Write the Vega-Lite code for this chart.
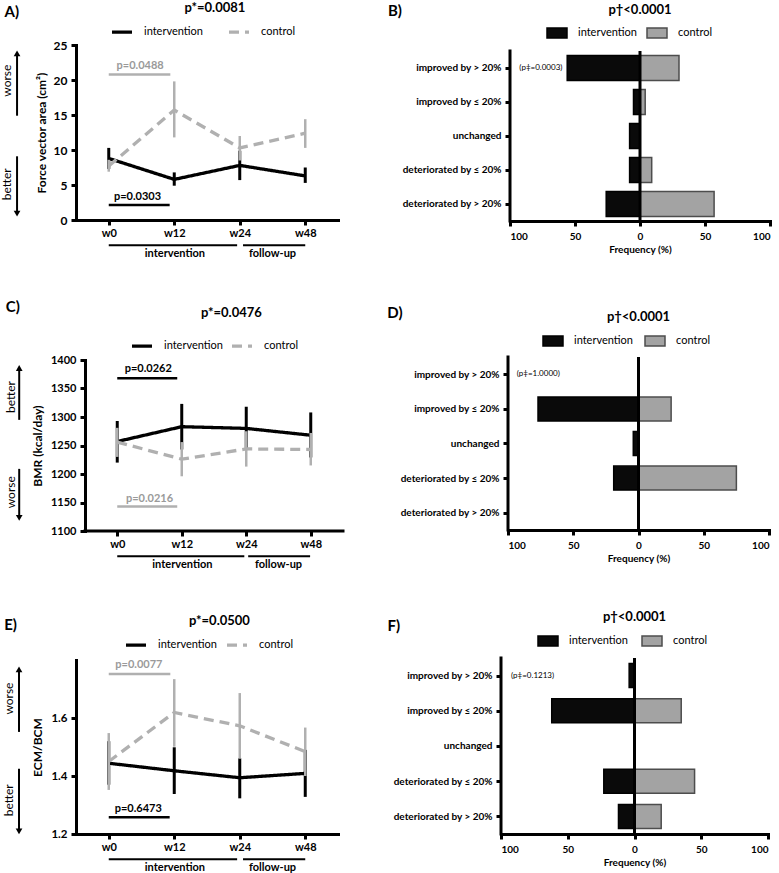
{
  "$schema": "https://vega.github.io/schema/vega-lite/v6.json",
  "padding": {"left": 1, "top": 1, "right": 0, "bottom": 0},
  "background": "white",
  "datasets": {
    "A": [
      {"week": "w0", "t": 0, "group": "intervention", "mean": 8.8, "lo": 7.3, "hi": 10.3},
      {"week": "w12", "t": 1, "group": "intervention", "mean": 5.8, "lo": 4.9, "hi": 6.8},
      {"week": "w24", "t": 2, "group": "intervention", "mean": 7.8, "lo": 5.7, "hi": 9.9},
      {"week": "w48", "t": 3, "group": "intervention", "mean": 6.3, "lo": 5.3, "hi": 7.5},
      {"week": "w0", "t": 0, "group": "control", "mean": 7.7, "lo": 6.9, "hi": 8.6},
      {"week": "w12", "t": 1, "group": "control", "mean": 15.7, "lo": 11.8, "hi": 19.8},
      {"week": "w24", "t": 2, "group": "control", "mean": 10.3, "lo": 8.5, "hi": 12.0},
      {"week": "w48", "t": 3, "group": "control", "mean": 12.4, "lo": 10.3, "hi": 14.4}
    ],
    "C": [
      {"week": "w0", "t": 0, "group": "intervention", "mean": 1257, "lo": 1220, "hi": 1293},
      {"week": "w12", "t": 1, "group": "intervention", "mean": 1283, "lo": 1243, "hi": 1323},
      {"week": "w24", "t": 2, "group": "intervention", "mean": 1280, "lo": 1242, "hi": 1318},
      {"week": "w48", "t": 3, "group": "intervention", "mean": 1268, "lo": 1229, "hi": 1308},
      {"week": "w0", "t": 0, "group": "control", "mean": 1256, "lo": 1230, "hi": 1281},
      {"week": "w12", "t": 1, "group": "control", "mean": 1226, "lo": 1196, "hi": 1256},
      {"week": "w24", "t": 2, "group": "control", "mean": 1244, "lo": 1213, "hi": 1275},
      {"week": "w48", "t": 3, "group": "control", "mean": 1243, "lo": 1215, "hi": 1272}
    ],
    "E": [
      {"week": "w0", "t": 0, "group": "intervention", "mean": 1.444, "lo": 1.37, "hi": 1.52},
      {"week": "w12", "t": 1, "group": "intervention", "mean": 1.418, "lo": 1.338, "hi": 1.499},
      {"week": "w24", "t": 2, "group": "intervention", "mean": 1.394, "lo": 1.323, "hi": 1.461},
      {"week": "w48", "t": 3, "group": "intervention", "mean": 1.409, "lo": 1.328, "hi": 1.49},
      {"week": "w0", "t": 0, "group": "control", "mean": 1.45, "lo": 1.352, "hi": 1.548},
      {"week": "w12", "t": 1, "group": "control", "mean": 1.619, "lo": 1.501, "hi": 1.734},
      {"week": "w24", "t": 2, "group": "control", "mean": 1.573, "lo": 1.46, "hi": 1.686},
      {"week": "w48", "t": 3, "group": "control", "mean": 1.484, "lo": 1.4, "hi": 1.567}
    ],
    "B": [
      {"change": "improved by > 20%", "idx": 0, "group": "intervention", "freq": -56},
      {"change": "improved by ≤ 20%", "idx": 1, "group": "intervention", "freq": -5},
      {"change": "unchanged", "idx": 2, "group": "intervention", "freq": -8},
      {"change": "deteriorated by ≤ 20%", "idx": 3, "group": "intervention", "freq": -8},
      {"change": "deteriorated by > 20%", "idx": 4, "group": "intervention", "freq": -26},
      {"change": "improved by > 20%", "idx": 0, "group": "control", "freq": 30},
      {"change": "improved by ≤ 20%", "idx": 1, "group": "control", "freq": 4},
      {"change": "unchanged", "idx": 2, "group": "control", "freq": 0},
      {"change": "deteriorated by ≤ 20%", "idx": 3, "group": "control", "freq": 9},
      {"change": "deteriorated by > 20%", "idx": 4, "group": "control", "freq": 57}
    ],
    "D": [
      {"change": "improved by > 20%", "idx": 0, "group": "intervention", "freq": 0},
      {"change": "improved by ≤ 20%", "idx": 1, "group": "intervention", "freq": -77},
      {"change": "unchanged", "idx": 2, "group": "intervention", "freq": -4},
      {"change": "deteriorated by ≤ 20%", "idx": 3, "group": "intervention", "freq": -19},
      {"change": "deteriorated by > 20%", "idx": 4, "group": "intervention", "freq": 0},
      {"change": "improved by > 20%", "idx": 0, "group": "control", "freq": 0},
      {"change": "improved by ≤ 20%", "idx": 1, "group": "control", "freq": 25},
      {"change": "unchanged", "idx": 2, "group": "control", "freq": 0},
      {"change": "deteriorated by ≤ 20%", "idx": 3, "group": "control", "freq": 75},
      {"change": "deteriorated by > 20%", "idx": 4, "group": "control", "freq": 0}
    ],
    "F": [
      {"change": "improved by > 20%", "idx": 0, "group": "intervention", "freq": -4},
      {"change": "improved by ≤ 20%", "idx": 1, "group": "intervention", "freq": -62},
      {"change": "unchanged", "idx": 2, "group": "intervention", "freq": 0},
      {"change": "deteriorated by ≤ 20%", "idx": 3, "group": "intervention", "freq": -23},
      {"change": "deteriorated by > 20%", "idx": 4, "group": "intervention", "freq": -12},
      {"change": "improved by > 20%", "idx": 0, "group": "control", "freq": 0},
      {"change": "improved by ≤ 20%", "idx": 1, "group": "control", "freq": 35},
      {"change": "unchanged", "idx": 2, "group": "control", "freq": 0},
      {"change": "deteriorated by ≤ 20%", "idx": 3, "group": "control", "freq": 45},
      {"change": "deteriorated by > 20%", "idx": 4, "group": "control", "freq": 20}
    ]
  },
  "columns": 1,
  "align": "none",
  "spacing": 40,
  "resolve": {"scale": {"color": "independent", "strokeDash": "independent", "fill": "independent", "stroke": "independent"}, "legend": {"color": "independent", "strokeDash": "independent", "fill": "independent", "stroke": "independent"}},
  "concat": [
    {
      "columns": 2, "align": "none", "bounds": "flush", "spacing": 172,
      "resolve": {"scale": {"color": "independent", "strokeDash": "independent", "fill": "independent", "stroke": "independent"}, "legend": {"color": "independent", "strokeDash": "independent", "fill": "independent", "stroke": "independent"}},
      "concat": [
        {
          "width": 262, "height": 175,
          "layer": [
            {"data": {"name": "A"}, "transform": [{"filter": "datum.group === 'intervention'"}],
             "mark": {"type": "rule", "strokeWidth": 3, "color": "#000000"},
             "encoding": {
               "x": {"field": "t", "type": "quantitative", "scale": {"domain": [-0.5, 3.5], "nice": false, "zero": false},
                     "axis": {"values": [0, 1, 2, 3], "tickCount": 20, "labelExpr": "['w0','w12','w24','w48'][datum.value]", "title": null, "labelPadding": 2}},
               "y": {"field": "lo", "type": "quantitative", "scale": {"domain": [0, 25], "nice": false, "zero": false},
                     "axis": {"values": [0, 5, 10, 15, 20, 25], "tickCount": 20, "title": "Force vector area (cm²)", "labelPadding": 4, "titlePadding": 5, "labelFontSize": 12}},
               "y2": {"field": "hi"}}},
            {"data": {"name": "A"},
             "mark": {"type": "line", "strokeWidth": 3.3},
             "encoding": {
               "x": {"field": "t", "type": "quantitative"},
               "y": {"field": "mean", "type": "quantitative"},
               "color": {"field": "group", "type": "nominal", "scale": {"domain": ["intervention", "control"], "range": ["#000000", "#b0b0b0"]},
                         "legend": {"orient": "none", "legendX": 34, "legendY": -25, "direction": "horizontal", "title": null, "symbolType": "stroke", "symbolSize": 400, "symbolStrokeWidth": 3.3, "labelOffset": 10, "columnPadding": 19}},
               "strokeDash": {"field": "group", "type": "nominal", "scale": {"domain": ["intervention", "control"], "range": [[1, 0], [10, 6]]},
                         "legend": {"orient": "none", "legendX": 34, "legendY": -25, "direction": "horizontal", "title": null, "symbolType": "stroke", "symbolSize": 400, "symbolStrokeWidth": 3.3, "labelOffset": 10, "columnPadding": 19}}}},
            {"data": {"name": "A"}, "transform": [{"filter": "datum.group === 'control'"}],
             "mark": {"type": "rule", "strokeWidth": 2.5, "color": "#b0b0b0"},
             "encoding": {"x": {"field": "t", "type": "quantitative"}, "y": {"field": "lo", "type": "quantitative"}, "y2": {"field": "hi"}}},
            {"data": {"values": [{}]}, "mark": {"type": "text", "text": "A)", "fontSize": 15, "fontWeight": "bold"},
             "encoding": {"x": {"datum": -1.48, "type": "quantitative"}, "y": {"datum": 29.7, "type": "quantitative"}}},
            {"data": {"values": [{}]}, "mark": {"type": "text", "text": "p*=0.0081", "fontSize": 13, "fontWeight": "bold"},
             "encoding": {"x": {"datum": 1.62, "type": "quantitative"}, "y": {"datum": 30.3, "type": "quantitative"}}},
            {"data": {"values": [{}]}, "mark": {"type": "text", "text": "worse", "fontSize": 12, "angle": 270},
             "encoding": {"x": {"datum": -1.55, "type": "quantitative"}, "y": {"datum": 19.9, "type": "quantitative"}}},
            {"data": {"values": [{}]}, "mark": {"type": "rule", "strokeWidth": 2, "color": "#000000"},
             "encoding": {"x": {"datum": -1.4, "type": "quantitative"}, "y": {"datum": 14.9, "type": "quantitative"}, "y2": {"datum": 23.8}}},
            {"data": {"values": [{}]}, "mark": {"type": "point", "shape": "triangle-up", "size": 45, "filled": true, "color": "#000000", "opacity": 1},
             "encoding": {"x": {"datum": -1.4, "type": "quantitative"}, "y": {"datum": 23.8, "type": "quantitative"}}},
            {"data": {"values": [{}]}, "mark": {"type": "text", "text": "better", "fontSize": 12, "angle": 270},
             "encoding": {"x": {"datum": -1.55, "type": "quantitative"}, "y": {"datum": 5.1, "type": "quantitative"}}},
            {"data": {"values": [{}]}, "mark": {"type": "rule", "strokeWidth": 2, "color": "#000000"},
             "encoding": {"x": {"datum": -1.4, "type": "quantitative"}, "y": {"datum": 9.1, "type": "quantitative"}, "y2": {"datum": 0.9}}},
            {"data": {"values": [{}]}, "mark": {"type": "point", "shape": "triangle-down", "size": 45, "filled": true, "color": "#000000", "opacity": 1},
             "encoding": {"x": {"datum": -1.4, "type": "quantitative"}, "y": {"datum": 0.9, "type": "quantitative"}}},
            {"data": {"values": [{}]}, "mark": {"type": "text", "text": "p=0.0488", "fontSize": 11, "fontWeight": "bold", "color": "#9a9a9a"},
             "encoding": {"x": {"datum": 0.48, "type": "quantitative"}, "y": {"datum": 22.0, "type": "quantitative"}}},
            {"data": {"values": [{}]}, "mark": {"type": "rule", "strokeWidth": 2.5, "color": "#b0b0b0"},
             "encoding": {"x": {"datum": 0, "type": "quantitative"}, "x2": {"datum": 0.94}, "y": {"datum": 20.8, "type": "quantitative"}}},
            {"data": {"values": [{}]}, "mark": {"type": "text", "text": "p=0.0303", "fontSize": 11, "fontWeight": "bold"},
             "encoding": {"x": {"datum": 0.44, "type": "quantitative"}, "y": {"datum": 3.3, "type": "quantitative"}}},
            {"data": {"values": [{}]}, "mark": {"type": "rule", "strokeWidth": 2.5, "color": "#000000"},
             "encoding": {"x": {"datum": 0, "type": "quantitative"}, "x2": {"datum": 0.93}, "y": {"datum": 2.15, "type": "quantitative"}}},
            {"data": {"values": [{}]}, "mark": {"type": "rule", "strokeWidth": 2, "color": "#000000"},
             "encoding": {"x": {"datum": 0, "type": "quantitative"}, "x2": {"datum": 1.96}, "y": {"datum": -3.6, "type": "quantitative"}}},
            {"data": {"values": [{}]}, "mark": {"type": "rule", "strokeWidth": 2, "color": "#000000"},
             "encoding": {"x": {"datum": 2.05, "type": "quantitative"}, "x2": {"datum": 3.0}, "y": {"datum": -3.6, "type": "quantitative"}}},
            {"data": {"values": [{}]}, "mark": {"type": "text", "text": "intervention", "fontSize": 11, "fontWeight": "bold"},
             "encoding": {"x": {"datum": 1.01, "type": "quantitative"}, "y": {"datum": -4.8, "type": "quantitative"}}},
            {"data": {"values": [{}]}, "mark": {"type": "text", "text": "follow-up", "fontSize": 11, "fontWeight": "bold"},
             "encoding": {"x": {"datum": 2.5, "type": "quantitative"}, "y": {"datum": -4.8, "type": "quantitative"}}}
          ]
        },
        {
          "width": 260, "height": 176,
          "layer": [
            {"data": {"name": "B"},
             "mark": {"type": "bar", "orient": "horizontal", "size": 25, "strokeWidth": 1.5},
             "encoding": {
               "x": {"field": "freq", "type": "quantitative", "stack": null, "scale": {"domain": [-100, 100], "nice": false, "padding": 0},
                     "axis": {"values": [-100, -50, 0, 50, 100], "tickCount": 20, "labelExpr": "abs(datum.value)", "title": "Frequency (%)", "titleFontSize": 10, "labelFontSize": 10, "labelPadding": 5, "titlePadding": 3}},
               "y": {"field": "idx", "type": "quantitative", "scale": {"domain": [-0.676, 4.5], "reverse": true, "nice": false, "zero": false, "padding": 0},
                     "axis": {"values": [0, 1, 2, 3, 4], "tickCount": 20, "domain": false, "labelExpr": "['improved by > 20%','improved by ≤ 20%','unchanged','deteriorated by ≤ 20%','deteriorated by > 20%'][datum.value]", "title": null, "labelFontSize": 10, "labelPadding": 4}},
               "fill": {"field": "group", "type": "nominal", "scale": {"domain": ["intervention", "control"], "range": ["#0a0a0a", "#a3a3a3"]},
                        "legend": {"orient": "none", "legendX": 36, "legendY": -23, "direction": "horizontal", "title": null, "symbolType": "M-1,-0.5H1V0.5H-1Z", "symbolSize": 400, "symbolStrokeWidth": 1.5, "labelOffset": 10, "columnPadding": 7}},
               "stroke": {"field": "group", "type": "nominal", "scale": {"domain": ["intervention", "control"], "range": ["#000000", "#4d4d4d"]},
                        "legend": {"orient": "none", "legendX": 36, "legendY": -23, "direction": "horizontal", "title": null, "symbolType": "M-1,-0.5H1V0.5H-1Z", "symbolSize": 400, "symbolStrokeWidth": 1.5, "labelOffset": 10, "columnPadding": 7}}}},
            {"data": {"values": [{}]}, "mark": {"type": "rule", "strokeWidth": 3, "color": "#000000", "strokeCap": "square"},
             "encoding": {"x": {"datum": -100, "type": "quantitative"}, "y": {"datum": -0.5, "type": "quantitative"}, "y2": {"datum": 4.5}}},
            {"data": {"values": [{}]}, "mark": {"type": "rule", "strokeWidth": 3, "color": "#000000"},
             "encoding": {"x": {"datum": 0, "type": "quantitative"}, "y": {"datum": -0.5, "type": "quantitative"}, "y2": {"datum": 4.5}}},
            {"data": {"values": [{}]}, "mark": {"type": "text", "text": "B)", "fontSize": 15, "fontWeight": "bold"},
             "encoding": {"x": {"datum": -188.5, "type": "quantitative"}, "y": {"datum": -1.68, "type": "quantitative"}}},
            {"data": {"values": [{}]}, "mark": {"type": "text", "text": "p†<0.0001", "fontSize": 13, "fontWeight": "bold"},
             "encoding": {"x": {"datum": 0, "type": "quantitative"}, "y": {"datum": -1.71, "type": "quantitative"}}},
            {"data": {"values": [{}]}, "mark": {"type": "text", "text": "(p‡=0.0003)", "fontSize": 8, "align": "left"},
             "encoding": {"x": {"datum": -92.8, "type": "quantitative"}, "y": {"datum": 0, "type": "quantitative"}}}
          ]
        }
      ]
    },
    {
      "columns": 2, "align": "none", "bounds": "flush", "spacing": 165,
      "resolve": {"scale": {"color": "independent", "strokeDash": "independent", "fill": "independent", "stroke": "independent"}, "legend": {"color": "independent", "strokeDash": "independent", "fill": "independent", "stroke": "independent"}},
      "concat": [
        {
          "width": 267, "height": 171,
          "layer": [
            {"data": {"name": "C"}, "transform": [{"filter": "datum.group === 'intervention'"}],
             "mark": {"type": "rule", "strokeWidth": 3, "color": "#000000"},
             "encoding": {
               "x": {"field": "t", "type": "quantitative", "scale": {"domain": [-0.6395, 3.5], "nice": false, "zero": false},
                     "axis": {"values": [0, 1, 2, 3], "tickCount": 20, "domain": false, "labelExpr": "['w0','w12','w24','w48'][datum.value]", "title": null, "labelPadding": 2}},
               "y": {"field": "lo", "type": "quantitative", "scale": {"domain": [1100, 1400], "nice": false, "zero": false},
                     "axis": {"values": [1100, 1150, 1200, 1250, 1300, 1350, 1400], "tickCount": 20, "offset": -9, "title": "BMR (kcal/day)", "labelPadding": 4, "titlePadding": 6, "format": "d", "labelFontSize": 11}},
               "y2": {"field": "hi"}}},
            {"data": {"values": [{}]}, "mark": {"type": "rule", "strokeWidth": 3, "color": "#000000", "strokeCap": "square"},
             "encoding": {"x": {"datum": -0.5, "type": "quantitative"}, "x2": {"datum": 3.5}, "y": {"datum": 1100, "type": "quantitative"}}},
            {"data": {"name": "C"},
             "mark": {"type": "line", "strokeWidth": 3.3},
             "encoding": {
               "x": {"field": "t", "type": "quantitative"},
               "y": {"field": "mean", "type": "quantitative"},
               "color": {"field": "group", "type": "nominal", "scale": {"domain": ["intervention", "control"], "range": ["#000000", "#b0b0b0"]},
                         "legend": {"orient": "none", "legendX": 54, "legendY": -26, "direction": "horizontal", "title": null, "symbolType": "stroke", "symbolSize": 400, "symbolStrokeWidth": 3.3, "labelOffset": 10, "columnPadding": 2}},
               "strokeDash": {"field": "group", "type": "nominal", "scale": {"domain": ["intervention", "control"], "range": [[1, 0], [10, 6]]},
                         "legend": {"orient": "none", "legendX": 54, "legendY": -26, "direction": "horizontal", "title": null, "symbolType": "stroke", "symbolSize": 400, "symbolStrokeWidth": 3.3, "labelOffset": 10, "columnPadding": 2}}}},
            {"data": {"name": "C"}, "transform": [{"filter": "datum.group === 'control'"}],
             "mark": {"type": "rule", "strokeWidth": 2.5, "color": "#b0b0b0"},
             "encoding": {"x": {"field": "t", "type": "quantitative"}, "y": {"field": "lo", "type": "quantitative"}, "y2": {"field": "hi"}}},
            {"data": {"values": [{}]}, "mark": {"type": "text", "text": "C)", "fontSize": 15, "fontWeight": "bold"},
             "encoding": {"x": {"datum": -1.62, "type": "quantitative"}, "y": {"datum": 1493, "type": "quantitative"}}},
            {"data": {"values": [{}]}, "mark": {"type": "text", "text": "p*=0.0476", "fontSize": 13, "fontWeight": "bold"},
             "encoding": {"x": {"datum": 1.77, "type": "quantitative"}, "y": {"datum": 1483, "type": "quantitative"}}},
            {"data": {"values": [{}]}, "mark": {"type": "text", "text": "better", "fontSize": 12, "angle": 270},
             "encoding": {"x": {"datum": -1.64, "type": "quantitative"}, "y": {"datum": 1335, "type": "quantitative"}}},
            {"data": {"values": [{}]}, "mark": {"type": "rule", "strokeWidth": 2, "color": "#000000"},
             "encoding": {"x": {"datum": -1.52, "type": "quantitative"}, "y": {"datum": 1295, "type": "quantitative"}, "y2": {"datum": 1386}}},
            {"data": {"values": [{}]}, "mark": {"type": "point", "shape": "triangle-up", "size": 45, "filled": true, "color": "#000000", "opacity": 1},
             "encoding": {"x": {"datum": -1.52, "type": "quantitative"}, "y": {"datum": 1386, "type": "quantitative"}}},
            {"data": {"values": [{}]}, "mark": {"type": "text", "text": "worse", "fontSize": 12, "angle": 270},
             "encoding": {"x": {"datum": -1.64, "type": "quantitative"}, "y": {"datum": 1168, "type": "quantitative"}}},
            {"data": {"values": [{}]}, "mark": {"type": "rule", "strokeWidth": 2, "color": "#000000"},
             "encoding": {"x": {"datum": -1.52, "type": "quantitative"}, "y": {"datum": 1209, "type": "quantitative"}, "y2": {"datum": 1123}}},
            {"data": {"values": [{}]}, "mark": {"type": "point", "shape": "triangle-down", "size": 45, "filled": true, "color": "#000000", "opacity": 1},
             "encoding": {"x": {"datum": -1.52, "type": "quantitative"}, "y": {"datum": 1123, "type": "quantitative"}}},
            {"data": {"values": [{}]}, "mark": {"type": "text", "text": "p=0.0262", "fontSize": 11, "fontWeight": "bold"},
             "encoding": {"x": {"datum": 0.48, "type": "quantitative"}, "y": {"datum": 1385, "type": "quantitative"}}},
            {"data": {"values": [{}]}, "mark": {"type": "rule", "strokeWidth": 2.5, "color": "#000000"},
             "encoding": {"x": {"datum": 0, "type": "quantitative"}, "x2": {"datum": 0.93}, "y": {"datum": 1368, "type": "quantitative"}}},
            {"data": {"values": [{}]}, "mark": {"type": "text", "text": "p=0.0216", "fontSize": 11, "fontWeight": "bold", "color": "#9a9a9a"},
             "encoding": {"x": {"datum": 0.5, "type": "quantitative"}, "y": {"datum": 1157, "type": "quantitative"}}},
            {"data": {"values": [{}]}, "mark": {"type": "rule", "strokeWidth": 2.5, "color": "#b0b0b0"},
             "encoding": {"x": {"datum": 0, "type": "quantitative"}, "x2": {"datum": 0.93}, "y": {"datum": 1143, "type": "quantitative"}}},
            {"data": {"values": [{}]}, "mark": {"type": "rule", "strokeWidth": 2, "color": "#000000"},
             "encoding": {"x": {"datum": 0, "type": "quantitative"}, "x2": {"datum": 1.97}, "y": {"datum": 1055.6, "type": "quantitative"}}},
            {"data": {"values": [{}]}, "mark": {"type": "rule", "strokeWidth": 2, "color": "#000000"},
             "encoding": {"x": {"datum": 2.03, "type": "quantitative"}, "x2": {"datum": 2.99}, "y": {"datum": 1055.6, "type": "quantitative"}}},
            {"data": {"values": [{}]}, "mark": {"type": "text", "text": "intervention", "fontSize": 11, "fontWeight": "bold"},
             "encoding": {"x": {"datum": 1.01, "type": "quantitative"}, "y": {"datum": 1041, "type": "quantitative"}}},
            {"data": {"values": [{}]}, "mark": {"type": "text", "text": "follow-up", "fontSize": 11, "fontWeight": "bold"},
             "encoding": {"x": {"datum": 2.5, "type": "quantitative"}, "y": {"datum": 1041, "type": "quantitative"}}}
          ]
        },
        {
          "width": 261, "height": 170,
          "layer": [
            {"data": {"name": "D"},
             "mark": {"type": "bar", "orient": "horizontal", "size": 24, "strokeWidth": 1.5},
             "encoding": {
               "x": {"field": "freq", "type": "quantitative", "stack": null, "scale": {"domain": [-100, 100], "nice": false, "padding": 0},
                     "axis": {"values": [-100, -50, 0, 50, 100], "tickCount": 20, "labelExpr": "abs(datum.value)", "title": "Frequency (%)", "titleFontSize": 10, "labelFontSize": 10, "labelPadding": 5, "titlePadding": 3}},
               "y": {"field": "idx", "type": "quantitative", "scale": {"domain": [-0.413, 4.5], "reverse": true, "nice": false, "zero": false, "padding": 0},
                     "axis": {"values": [0, 1, 2, 3, 4], "tickCount": 20, "domain": false, "labelExpr": "['improved by > 20%','improved by ≤ 20%','unchanged','deteriorated by ≤ 20%','deteriorated by > 20%'][datum.value]", "title": null, "labelFontSize": 10, "labelPadding": 4}},
               "fill": {"field": "group", "type": "nominal", "scale": {"domain": ["intervention", "control"], "range": ["#0a0a0a", "#a3a3a3"]},
                        "legend": {"orient": "none", "legendX": 34, "legendY": -30, "direction": "horizontal", "title": null, "symbolType": "M-1,-0.5H1V0.5H-1Z", "symbolSize": 400, "symbolStrokeWidth": 1.5, "labelOffset": 10, "columnPadding": 9}},
               "stroke": {"field": "group", "type": "nominal", "scale": {"domain": ["intervention", "control"], "range": ["#000000", "#4d4d4d"]},
                        "legend": {"orient": "none", "legendX": 34, "legendY": -30, "direction": "horizontal", "title": null, "symbolType": "M-1,-0.5H1V0.5H-1Z", "symbolSize": 400, "symbolStrokeWidth": 1.5, "labelOffset": 10, "columnPadding": 9}}}},
            {"data": {"values": [{}]}, "mark": {"type": "rule", "strokeWidth": 3, "color": "#000000", "strokeCap": "square"},
             "encoding": {"x": {"datum": -100, "type": "quantitative"}, "y": {"datum": -0.5, "type": "quantitative"}, "y2": {"datum": 4.5}}},
            {"data": {"values": [{}]}, "mark": {"type": "rule", "strokeWidth": 3, "color": "#000000"},
             "encoding": {"x": {"datum": 0, "type": "quantitative"}, "y": {"datum": -0.5, "type": "quantitative"}, "y2": {"datum": 4.5}}},
            {"data": {"values": [{}]}, "mark": {"type": "text", "text": "D)", "fontSize": 15, "fontWeight": "bold"},
             "encoding": {"x": {"datum": -186.6, "type": "quantitative"}, "y": {"datum": -1.77, "type": "quantitative"}}},
            {"data": {"values": [{}]}, "mark": {"type": "text", "text": "p†<0.0001", "fontSize": 13, "fontWeight": "bold"},
             "encoding": {"x": {"datum": 0, "type": "quantitative"}, "y": {"datum": -1.66, "type": "quantitative"}}},
            {"data": {"values": [{}]}, "mark": {"type": "text", "text": "(p‡=1.0000)", "fontSize": 8, "align": "left"},
             "encoding": {"x": {"datum": -93.3, "type": "quantitative"}, "y": {"datum": 0, "type": "quantitative"}}}
          ]
        }
      ]
    },
    {
      "columns": 2, "align": "none", "bounds": "flush", "spacing": 163,
      "resolve": {"scale": {"color": "independent", "strokeDash": "independent", "fill": "independent", "stroke": "independent"}, "legend": {"color": "independent", "strokeDash": "independent", "fill": "independent", "stroke": "independent"}},
      "concat": [
        {
          "width": 262, "height": 174,
          "layer": [
            {"data": {"name": "E"}, "transform": [{"filter": "datum.group === 'intervention'"}],
             "mark": {"type": "rule", "strokeWidth": 3, "color": "#000000"},
             "encoding": {
               "x": {"field": "t", "type": "quantitative", "scale": {"domain": [-0.5, 3.5], "nice": false, "zero": false},
                     "axis": {"values": [0, 1, 2, 3], "tickCount": 20, "labelExpr": "['w0','w12','w24','w48'][datum.value]", "title": null, "labelPadding": 2}},
               "y": {"field": "lo", "type": "quantitative", "scale": {"domain": [1.2, 1.8], "nice": false, "zero": false},
                     "axis": {"values": [1.2, 1.4, 1.6], "tickCount": 20, "format": ".1f", "title": "ECM/BCM", "labelPadding": 4, "titlePadding": 6, "labelFontSize": 11.5}},
               "y2": {"field": "hi"}}},
            {"data": {"name": "E"},
             "mark": {"type": "line", "strokeWidth": 3.3},
             "encoding": {
               "x": {"field": "t", "type": "quantitative"},
               "y": {"field": "mean", "type": "quantitative"},
               "color": {"field": "group", "type": "nominal", "scale": {"domain": ["intervention", "control"], "range": ["#000000", "#b0b0b0"]},
                         "legend": {"orient": "none", "legendX": 48, "legendY": -27, "direction": "horizontal", "title": null, "symbolType": "stroke", "symbolSize": 400, "symbolStrokeWidth": 3.3, "labelOffset": 10, "columnPadding": 3}},
               "strokeDash": {"field": "group", "type": "nominal", "scale": {"domain": ["intervention", "control"], "range": [[1, 0], [10, 6]]},
                         "legend": {"orient": "none", "legendX": 48, "legendY": -27, "direction": "horizontal", "title": null, "symbolType": "stroke", "symbolSize": 400, "symbolStrokeWidth": 3.3, "labelOffset": 10, "columnPadding": 3}}}},
            {"data": {"name": "E"}, "transform": [{"filter": "datum.group === 'control'"}],
             "mark": {"type": "rule", "strokeWidth": 2.5, "color": "#b0b0b0"},
             "encoding": {"x": {"field": "t", "type": "quantitative"}, "y": {"field": "lo", "type": "quantitative"}, "y2": {"field": "hi"}}},
            {"data": {"values": [{}]}, "mark": {"type": "text", "text": "E)", "fontSize": 15, "fontWeight": "bold"},
             "encoding": {"x": {"datum": -1.5, "type": "quantitative"}, "y": {"datum": 1.922, "type": "quantitative"}}},
            {"data": {"values": [{}]}, "mark": {"type": "text", "text": "p*=0.0500", "fontSize": 13, "fontWeight": "bold"},
             "encoding": {"x": {"datum": 1.69, "type": "quantitative"}, "y": {"datum": 1.933, "type": "quantitative"}}},
            {"data": {"values": [{}]}, "mark": {"type": "text", "text": "worse", "fontSize": 12, "angle": 270},
             "encoding": {"x": {"datum": -1.53, "type": "quantitative"}, "y": {"datum": 1.667, "type": "quantitative"}}},
            {"data": {"values": [{}]}, "mark": {"type": "rule", "strokeWidth": 2, "color": "#000000"},
             "encoding": {"x": {"datum": -1.37, "type": "quantitative"}, "y": {"datum": 1.552, "type": "quantitative"}, "y2": {"datum": 1.768}}},
            {"data": {"values": [{}]}, "mark": {"type": "point", "shape": "triangle-up", "size": 45, "filled": true, "color": "#000000", "opacity": 1},
             "encoding": {"x": {"datum": -1.37, "type": "quantitative"}, "y": {"datum": 1.768, "type": "quantitative"}}},
            {"data": {"values": [{}]}, "mark": {"type": "text", "text": "better", "fontSize": 12, "angle": 270},
             "encoding": {"x": {"datum": -1.53, "type": "quantitative"}, "y": {"datum": 1.316, "type": "quantitative"}}},
            {"data": {"values": [{}]}, "mark": {"type": "rule", "strokeWidth": 2, "color": "#000000"},
             "encoding": {"x": {"datum": -1.37, "type": "quantitative"}, "y": {"datum": 1.425, "type": "quantitative"}, "y2": {"datum": 1.209}}},
            {"data": {"values": [{}]}, "mark": {"type": "point", "shape": "triangle-down", "size": 45, "filled": true, "color": "#000000", "opacity": 1},
             "encoding": {"x": {"datum": -1.37, "type": "quantitative"}, "y": {"datum": 1.209, "type": "quantitative"}}},
            {"data": {"values": [{}]}, "mark": {"type": "text", "text": "p=0.0077", "fontSize": 11, "fontWeight": "bold", "color": "#9a9a9a"},
             "encoding": {"x": {"datum": 0.46, "type": "quantitative"}, "y": {"datum": 1.784, "type": "quantitative"}}},
            {"data": {"values": [{}]}, "mark": {"type": "rule", "strokeWidth": 2.5, "color": "#b0b0b0"},
             "encoding": {"x": {"datum": 0, "type": "quantitative"}, "x2": {"datum": 0.94}, "y": {"datum": 1.752, "type": "quantitative"}}},
            {"data": {"values": [{}]}, "mark": {"type": "text", "text": "p=0.6473", "fontSize": 11, "fontWeight": "bold"},
             "encoding": {"x": {"datum": 0.45, "type": "quantitative"}, "y": {"datum": 1.286, "type": "quantitative"}}},
            {"data": {"values": [{}]}, "mark": {"type": "rule", "strokeWidth": 2.5, "color": "#000000"},
             "encoding": {"x": {"datum": 0, "type": "quantitative"}, "x2": {"datum": 0.93}, "y": {"datum": 1.258, "type": "quantitative"}}},
            {"data": {"values": [{}]}, "mark": {"type": "rule", "strokeWidth": 2, "color": "#000000"},
             "encoding": {"x": {"datum": 0, "type": "quantitative"}, "x2": {"datum": 1.96}, "y": {"datum": 1.113, "type": "quantitative"}}},
            {"data": {"values": [{}]}, "mark": {"type": "rule", "strokeWidth": 2, "color": "#000000"},
             "encoding": {"x": {"datum": 2.05, "type": "quantitative"}, "x2": {"datum": 3.0}, "y": {"datum": 1.113, "type": "quantitative"}}},
            {"data": {"values": [{}]}, "mark": {"type": "text", "text": "intervention", "fontSize": 11, "fontWeight": "bold"},
             "encoding": {"x": {"datum": 1.01, "type": "quantitative"}, "y": {"datum": 1.083, "type": "quantitative"}}},
            {"data": {"values": [{}]}, "mark": {"type": "text", "text": "follow-up", "fontSize": 11, "fontWeight": "bold"},
             "encoding": {"x": {"datum": 2.5, "type": "quantitative"}, "y": {"datum": 1.083, "type": "quantitative"}}}
          ]
        },
        {
          "width": 267, "height": 174,
          "layer": [
            {"data": {"name": "F"},
             "mark": {"type": "bar", "orient": "horizontal", "size": 24, "strokeWidth": 1.5},
             "encoding": {
               "x": {"field": "freq", "type": "quantitative", "stack": null, "scale": {"domain": [-100, 100], "nice": false, "padding": 0},
                     "axis": {"values": [-100, -50, 0, 50, 100], "tickCount": 20, "labelExpr": "abs(datum.value)", "title": "Frequency (%)", "titleFontSize": 10, "labelFontSize": 10, "labelPadding": 5, "titlePadding": 3}},
               "y": {"field": "idx", "type": "quantitative", "scale": {"domain": [-0.443, 4.5], "reverse": true, "nice": false, "zero": false, "padding": 0},
                     "axis": {"values": [0, 1, 2, 3, 4], "tickCount": 20, "domain": false, "labelExpr": "['improved by > 20%','improved by ≤ 20%','unchanged','deteriorated by ≤ 20%','deteriorated by > 20%'][datum.value]", "title": null, "labelFontSize": 10, "labelPadding": 4}},
               "fill": {"field": "group", "type": "nominal", "scale": {"domain": ["intervention", "control"], "range": ["#0a0a0a", "#a3a3a3"]},
                        "legend": {"orient": "none", "legendX": 36, "legendY": -30, "direction": "horizontal", "title": null, "symbolType": "M-1,-0.5H1V0.5H-1Z", "symbolSize": 400, "symbolStrokeWidth": 1.5, "labelOffset": 10, "columnPadding": 11}},
               "stroke": {"field": "group", "type": "nominal", "scale": {"domain": ["intervention", "control"], "range": ["#000000", "#4d4d4d"]},
                        "legend": {"orient": "none", "legendX": 36, "legendY": -30, "direction": "horizontal", "title": null, "symbolType": "M-1,-0.5H1V0.5H-1Z", "symbolSize": 400, "symbolStrokeWidth": 1.5, "labelOffset": 10, "columnPadding": 11}}}},
            {"data": {"values": [{}]}, "mark": {"type": "rule", "strokeWidth": 3, "color": "#000000", "strokeCap": "square"},
             "encoding": {"x": {"datum": -100, "type": "quantitative"}, "y": {"datum": -0.5, "type": "quantitative"}, "y2": {"datum": 4.5}}},
            {"data": {"values": [{}]}, "mark": {"type": "rule", "strokeWidth": 3, "color": "#000000"},
             "encoding": {"x": {"datum": 0, "type": "quantitative"}, "y": {"datum": -0.5, "type": "quantitative"}, "y2": {"datum": 4.5}}},
            {"data": {"values": [{}]}, "mark": {"type": "text", "text": "F)", "fontSize": 15, "fontWeight": "bold"},
             "encoding": {"x": {"datum": -180.3, "type": "quantitative"}, "y": {"datum": -1.42, "type": "quantitative"}}},
            {"data": {"values": [{}]}, "mark": {"type": "text", "text": "p†<0.0001", "fontSize": 13, "fontWeight": "bold"},
             "encoding": {"x": {"datum": 0, "type": "quantitative"}, "y": {"datum": -1.665, "type": "quantitative"}}},
            {"data": {"values": [{}]}, "mark": {"type": "text", "text": "(p‡=0.1213)", "fontSize": 8, "align": "left"},
             "encoding": {"x": {"datum": -92.5, "type": "quantitative"}, "y": {"datum": 0, "type": "quantitative"}}}
          ]
        }
      ]
    }
  ],
  "config": {
    "font": "Lato",
    "view": {"stroke": null},
    "axis": {
      "domainColor": "#000000", "domainWidth": 3, "domainCap": "square",
      "tickColor": "#000000", "tickWidth": 3, "tickSize": 5,
      "labelColor": "#000000", "labelFontWeight": "bold", "labelFontSize": 11, "labelFont": "Lato",
      "titleColor": "#000000", "titleFontWeight": "bold", "titleFontSize": 12, "titleFont": "Lato",
      "grid": false, "labelOverlap": false
    },
    "legend": {"labelFont": "Lato", "labelColor": "#000000", "labelFontSize": 11, "padding": 0},
    "text": {"font": "Lato", "color": "#000000"}
  }
}
